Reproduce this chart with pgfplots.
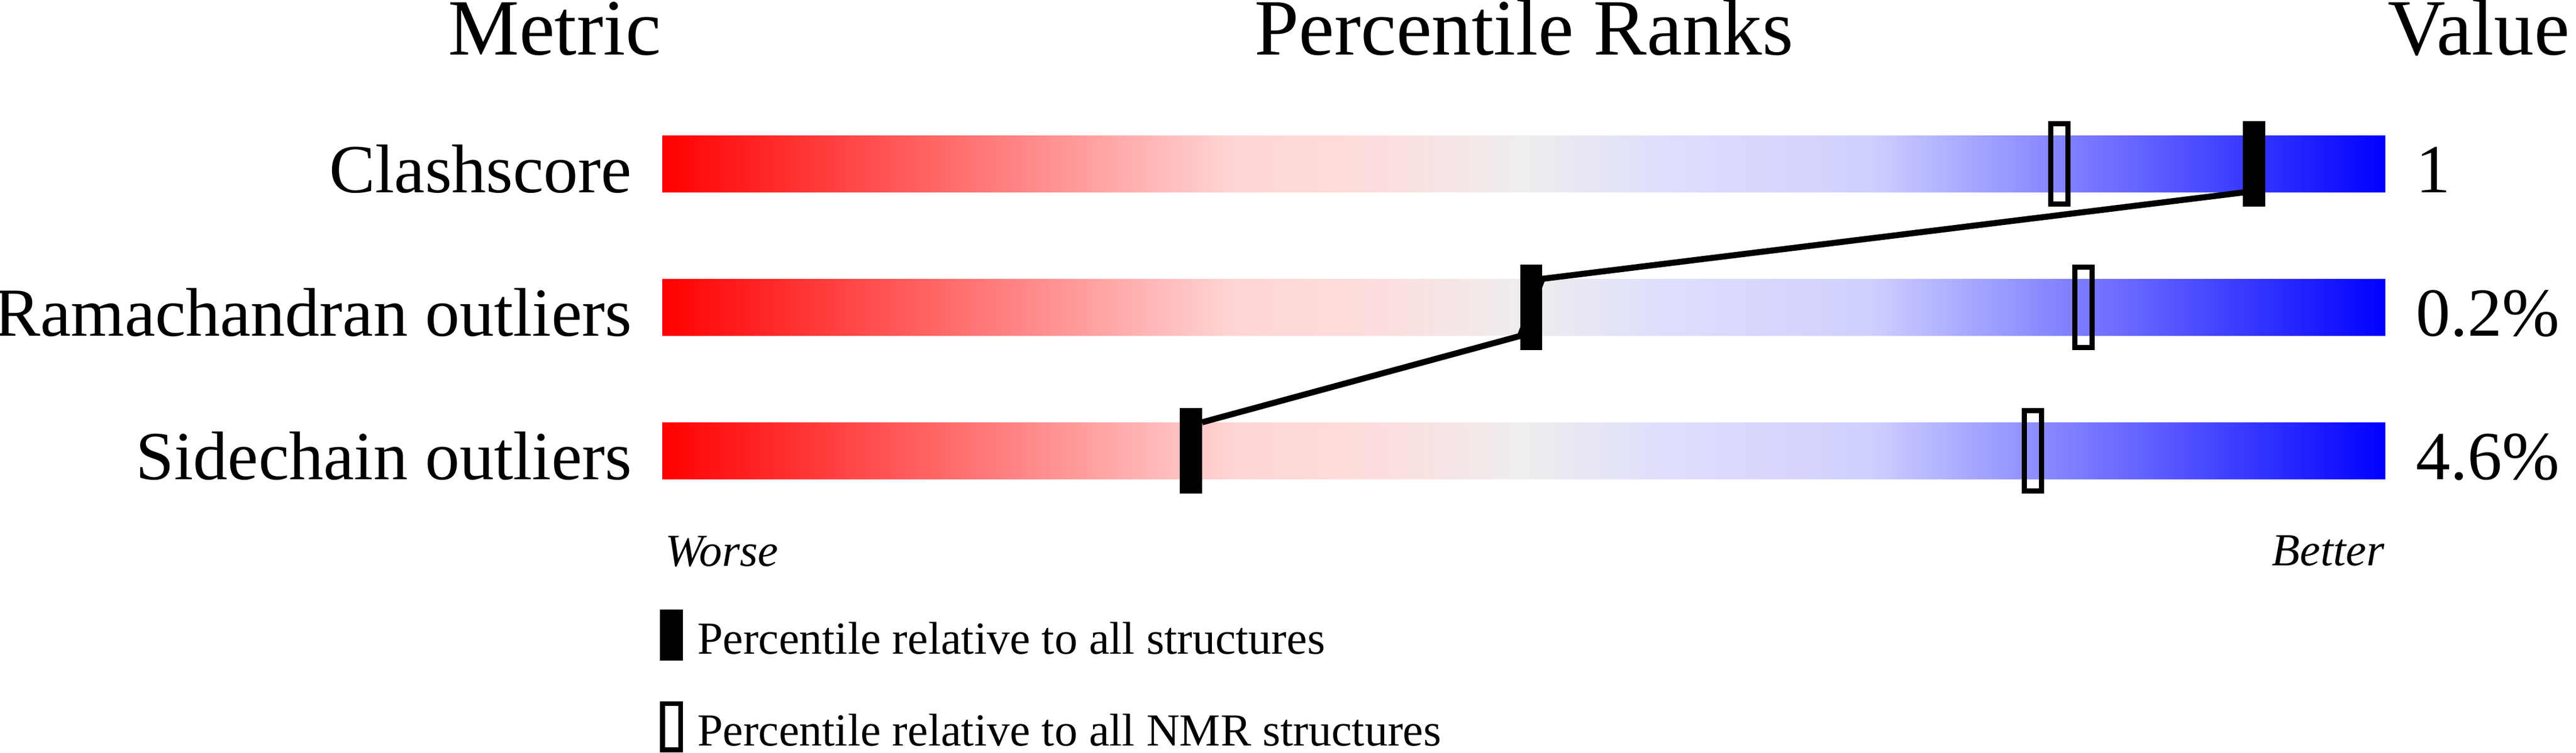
\documentclass[border=0pt]{standalone}
\usepackage{fontspec}
\setmainfont{Liberation Serif}
\usepackage{pgfplots}
\pgfplotsset{compat=1.18}

% slider colours (red = worse, blue = better)
\definecolor{wwred}{RGB}{255,0,0}
\definecolor{wwpinkA}{RGB}{255,212,212}
\definecolor{wwpinkB}{RGB}{253,222,222}
\definecolor{wwgray}{RGB}{238,238,238}
\definecolor{wwlavA}{RGB}{222,222,252}
\definecolor{wwlavB}{RGB}{208,208,255}
\definecolor{wwblue}{RGB}{0,0,255}
\pgfdeclarehorizontalshading{wwpdb}{100bp}{%
  color(0bp)=(wwred); color(25bp)=(wwred);
  color(41.5bp)=(wwpinkA); color(46bp)=(wwpinkB);
  color(50bp)=(wwgray);
  color(54bp)=(wwlavA); color(60bp)=(wwlavB);
  color(75bp)=(wwblue); color(100bp)=(wwblue)}

% percentile markers
\pgfdeclareplotmark{solidbar}{%
  \pgfpathrectangle{\pgfqpoint{-1.94pt}{-7.45pt}}{\pgfqpoint{3.88pt}{14.9pt}}%
  \pgfusepathqfill}
\pgfdeclareplotmark{openbar}{%
  \pgfsetlinewidth{0.9pt}%
  \pgfpathrectangle{\pgfqpoint{-1.49pt}{-7.0pt}}{\pgfqpoint{2.98pt}{14.0pt}}%
  \pgfusepathqstroke}

\newcommand{\titlefont}{\fontsize{13.9pt}{16pt}\selectfont}
\newcommand{\rowfont}{\fontsize{12pt}{14pt}\selectfont}
\newcommand{\smallfont}{\fontsize{8pt}{9.6pt}\selectfont}

\begin{document}
\begin{tikzpicture}
\begin{axis}[
    name=ax,
    width=448.5pt, height=131.1pt,
    scale only axis,
    hide axis,
    clip=false,
    xmin=-38.4333, xmax=111.0667,
    ymin=0, ymax=1311,
    y dir=reverse,
    legend cell align=left,
    legend style={
        draw=none, fill=none,
        inner sep=0pt, outer sep=0pt,
        at={(0.25619,0.19016)}, anchor=north west,
        row sep=4.46pt, column sep=2.5pt,
        nodes={inner sep=0pt, outer sep=0pt},
        font=\smallfont
    }
]

% gradient sliders, 0 to 100 percentile
\addplot[forget plot, xbar, bar width=99.6, draw=none, shading=wwpdb]
    coordinates {(100,285.6) (100,535.6) (100,785.6)};

% line joining the percentiles relative to all structures
\addplot[forget plot, black, line width=1.05pt]
    coordinates {(31.33,735.8) (49.78,585.4) (51.08,485.8) (91.74,335.4)};

\addplot[only marks, mark=solidbar, black,
    legend image code/.code={
        \path[draw=none, fill=none] (0pt,-5.77pt) rectangle (4pt,5.77pt);
        \path[draw=none, fill=black] (0pt,-3.13pt) rectangle (4pt,5.77pt);}]
    coordinates {(92.39,285.6) (50.43,535.6) (30.68,785.6)};
\addlegendentry{Percentile relative to all structures}

\addplot[only marks, mark=openbar, black,
    legend image code/.code={
        \path[draw=none, fill=none] (0pt,-5.77pt) rectangle (4pt,5.77pt);
        \path[draw=black, fill=none, line width=0.85pt] (0.425pt,-2.705pt) rectangle (3.575pt,5.345pt);}]
    coordinates {(81.08,285.6) (82.48,535.6) (79.55,785.6)};
\addlegendentry{Percentile relative to all NMR structures}

% column titles
\node[anchor=base east, inner sep=0pt, font=\titlefont] at (axis cs:0,96) {Metric};
\node[anchor=base, inner sep=0pt, font=\titlefont] at (axis cs:50,96) {Percentile Ranks};
\node[anchor=base west, inner sep=0pt, font=\titlefont] at (axis cs:100.07,96) {Value};

% metric names
\node[anchor=base east, inner sep=0pt, font=\rowfont] at (axis cs:-1.70,335.6) {Clashscore};
\node[anchor=base east, inner sep=0pt, font=\rowfont] at (axis cs:-1.70,585.6) {Ramachandran outliers};
\node[anchor=base east, inner sep=0pt, font=\rowfont] at (axis cs:-1.70,835.6) {Sidechain outliers};

% values
\node[anchor=base west, inner sep=0pt, font=\rowfont] at (axis cs:101.7,335.6) {1};
\node[anchor=base west, inner sep=0pt, font=\rowfont] at (axis cs:101.7,585.6) {0.2\%};
\node[anchor=base west, inner sep=0pt, font=\rowfont] at (axis cs:101.7,835.6) {4.6\%};

% scale ends
\node[anchor=base west, inner sep=0pt, font=\smallfont\itshape] at (axis cs:0.1,986) {Worse};
\node[anchor=base east, inner sep=0pt, font=\smallfont\itshape] at (axis cs:100,985) {Better};

\end{axis}
\pgfresetboundingbox
\path (ax.south west) rectangle (ax.north east);
\end{tikzpicture}
\end{document}
